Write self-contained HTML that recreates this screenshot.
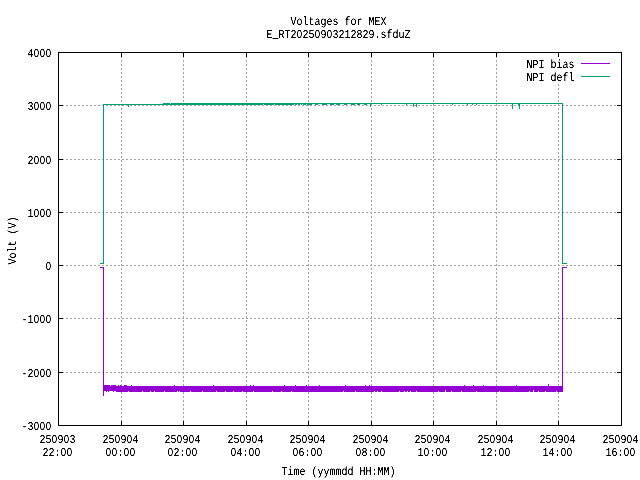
<!DOCTYPE html>
<html><head><meta charset="utf-8"><title>Voltages for MEX</title>
<style>
html,body{margin:0;padding:0;background:#fff;overflow:hidden}
svg{display:block}
text{font-family:"Liberation Mono",monospace;font-size:12px;fill:#000;white-space:pre;text-rendering:geometricPrecision;stroke:none}
.z{font-family:"Liberation Sans",sans-serif;font-size:11.5px}
</style></head><body>
<svg width="640" height="480" viewBox="0 0 640 480">
<defs><filter id="bw" x="0" y="0" width="640" height="480" filterUnits="userSpaceOnUse" color-interpolation-filters="sRGB"><feComponentTransfer><feFuncA type="linear" slope="2" intercept="-0.35"/></feComponentTransfer></filter></defs>
<rect x="0" y="0" width="640" height="480" fill="#fff"/>
<g shape-rendering="crispEdges" stroke="#a0a0a0" stroke-width="1" stroke-dasharray="2 2" fill="none">
<line x1="121.5" y1="56" x2="121.5" y2="425"/>
<line x1="183.5" y1="56" x2="183.5" y2="425"/>
<line x1="246.5" y1="56" x2="246.5" y2="425"/>
<line x1="308.5" y1="56" x2="308.5" y2="425"/>
<line x1="371.5" y1="56" x2="371.5" y2="425"/>
<line x1="433.5" y1="56" x2="433.5" y2="425"/>
<line x1="496.5" y1="56" x2="496.5" y2="425"/>
<line x1="558.5" y1="56" x2="558.5" y2="425"/>
<line x1="58" y1="105.5" x2="621" y2="105.5"/>
<line x1="58" y1="159.5" x2="621" y2="159.5"/>
<line x1="58" y1="212.5" x2="621" y2="212.5"/>
<line x1="58" y1="265.5" x2="621" y2="265.5"/>
<line x1="58" y1="318.5" x2="621" y2="318.5"/>
<line x1="58" y1="372.5" x2="621" y2="372.5"/>
</g>
<rect x="520" y="57" width="97" height="27" fill="#fff"/>
<g shape-rendering="crispEdges" stroke="#000" stroke-width="1" fill="none">
<line x1="121.5" y1="52" x2="121.5" y2="57"/><line x1="121.5" y1="421" x2="121.5" y2="426"/>
<line x1="183.5" y1="52" x2="183.5" y2="57"/><line x1="183.5" y1="421" x2="183.5" y2="426"/>
<line x1="246.5" y1="52" x2="246.5" y2="57"/><line x1="246.5" y1="421" x2="246.5" y2="426"/>
<line x1="308.5" y1="52" x2="308.5" y2="57"/><line x1="308.5" y1="421" x2="308.5" y2="426"/>
<line x1="371.5" y1="52" x2="371.5" y2="57"/><line x1="371.5" y1="421" x2="371.5" y2="426"/>
<line x1="433.5" y1="52" x2="433.5" y2="57"/><line x1="433.5" y1="421" x2="433.5" y2="426"/>
<line x1="496.5" y1="52" x2="496.5" y2="57"/><line x1="496.5" y1="421" x2="496.5" y2="426"/>
<line x1="558.5" y1="52" x2="558.5" y2="57"/><line x1="558.5" y1="421" x2="558.5" y2="426"/>
<line x1="58" y1="105.5" x2="63" y2="105.5"/><line x1="617" y1="105.5" x2="622" y2="105.5"/>
<line x1="58" y1="159.5" x2="63" y2="159.5"/><line x1="617" y1="159.5" x2="622" y2="159.5"/>
<line x1="58" y1="212.5" x2="63" y2="212.5"/><line x1="617" y1="212.5" x2="622" y2="212.5"/>
<line x1="58" y1="265.5" x2="63" y2="265.5"/><line x1="617" y1="265.5" x2="622" y2="265.5"/>
<line x1="58" y1="318.5" x2="63" y2="318.5"/><line x1="617" y1="318.5" x2="622" y2="318.5"/>
<line x1="58" y1="372.5" x2="63" y2="372.5"/><line x1="617" y1="372.5" x2="622" y2="372.5"/>
<rect x="58.5" y="52.5" width="563" height="373"/>
</g>
<g shape-rendering="crispEdges">
<g fill="#9400d3">
<rect x="100" y="267" width="4" height="1"/><rect x="103" y="267" width="1" height="129"/>
<rect x="562" y="267" width="5" height="1"/><rect x="562" y="267" width="1" height="125"/>
<rect x="104" y="386" width="459" height="6"/>
<rect x="104" y="385" width="1" height="1"/><rect x="105" y="385" width="1" height="1"/><rect x="106" y="385" width="1" height="1"/><rect x="107" y="385" width="1" height="1"/><rect x="108" y="385" width="1" height="1"/><rect x="109" y="385" width="1" height="1"/><rect x="111" y="385" width="1" height="1"/><rect x="112" y="385" width="1" height="1"/><rect x="113" y="385" width="1" height="1"/><rect x="114" y="385" width="1" height="1"/><rect x="115" y="385" width="1" height="1"/><rect x="118" y="385" width="1" height="1"/><rect x="120" y="385" width="1" height="1"/><rect x="124" y="385" width="1" height="1"/><rect x="125" y="385" width="1" height="1"/><rect x="126" y="385" width="1" height="1"/><rect x="131" y="385" width="1" height="1"/><rect x="174" y="385" width="1" height="1"/><rect x="213" y="385" width="1" height="1"/><rect x="250" y="385" width="1" height="1"/><rect x="253" y="385" width="1" height="1"/><rect x="284" y="385" width="1" height="1"/><rect x="295" y="385" width="1" height="1"/><rect x="306" y="385" width="1" height="1"/><rect x="319" y="385" width="1" height="1"/><rect x="345" y="385" width="1" height="1"/><rect x="365" y="385" width="1" height="1"/><rect x="369" y="385" width="1" height="1"/><rect x="464" y="385" width="1" height="1"/><rect x="473" y="385" width="1" height="1"/><rect x="483" y="385" width="1" height="1"/><rect x="516" y="385" width="1" height="1"/><rect x="548" y="384" width="1" height="2"/>
<g fill="#fff"><rect x="104" y="391" width="1" height="1"/><rect x="105" y="391" width="1" height="1"/><rect x="107" y="391" width="1" height="1"/><rect x="109" y="391" width="1" height="1"/><rect x="110" y="391" width="1" height="1"/><rect x="111" y="391" width="1" height="1"/><rect x="112" y="391" width="1" height="1"/><rect x="114" y="391" width="1" height="1"/><rect x="115" y="391" width="1" height="1"/><rect x="128" y="391" width="1" height="1"/><rect x="142" y="391" width="1" height="1"/><rect x="150" y="391" width="1" height="1"/><rect x="154" y="391" width="1" height="1"/><rect x="164" y="391" width="1" height="1"/><rect x="177" y="391" width="1" height="1"/><rect x="179" y="391" width="1" height="1"/><rect x="190" y="391" width="1" height="1"/><rect x="202" y="391" width="1" height="1"/><rect x="216" y="391" width="1" height="1"/><rect x="225" y="391" width="1" height="1"/><rect x="233" y="391" width="1" height="1"/><rect x="242" y="391" width="1" height="1"/><rect x="253" y="391" width="1" height="1"/><rect x="272" y="391" width="1" height="1"/><rect x="281" y="391" width="1" height="1"/><rect x="291" y="391" width="1" height="1"/><rect x="343" y="391" width="1" height="1"/><rect x="355" y="391" width="1" height="1"/><rect x="374" y="391" width="1" height="1"/><rect x="377" y="391" width="1" height="1"/><rect x="381" y="391" width="1" height="1"/><rect x="399" y="391" width="1" height="1"/><rect x="404" y="391" width="1" height="1"/><rect x="407" y="391" width="1" height="1"/><rect x="410" y="391" width="1" height="1"/><rect x="416" y="391" width="1" height="1"/><rect x="438" y="391" width="1" height="1"/><rect x="445" y="391" width="1" height="1"/><rect x="451" y="391" width="1" height="1"/><rect x="461" y="391" width="1" height="1"/><rect x="476" y="391" width="1" height="1"/><rect x="499" y="391" width="1" height="1"/><rect x="529" y="391" width="1" height="1"/><rect x="533" y="391" width="1" height="1"/><rect x="538" y="391" width="1" height="1"/><rect x="545" y="391" width="1" height="1"/><rect x="556" y="391" width="1" height="1"/><rect x="445" y="390" width="1" height="1"/><rect x="533" y="390" width="1" height="1"/></g>
</g>
<g fill="#009e73">
<rect x="100" y="263" width="4" height="1"/><rect x="103" y="104" width="1" height="160"/>
<rect x="562" y="263" width="5" height="1"/><rect x="562" y="103" width="1" height="161"/>
<rect x="103" y="104" width="268" height="1"/>
<rect x="163" y="103" width="400" height="1"/>
<rect x="170" y="103" width="1" height="1" fill="#fff"/>
<rect x="128" y="105" width="1" height="2"/>
<rect x="263" y="104" width="1" height="1" fill="#fff"/><rect x="274" y="104" width="1" height="1" fill="#fff"/><rect x="294" y="104" width="1" height="1" fill="#fff"/><rect x="297" y="104" width="1" height="1" fill="#fff"/><rect x="300" y="104" width="1" height="1" fill="#fff"/><rect x="302" y="104" width="1" height="1" fill="#fff"/><rect x="306" y="104" width="1" height="1" fill="#fff"/>
<rect x="312" y="104" width="3" height="1" fill="#fff"/><rect x="318" y="104" width="4" height="1" fill="#fff"/><rect x="327" y="104" width="3" height="1" fill="#fff"/><rect x="334" y="104" width="2" height="1" fill="#fff"/><rect x="340" y="104" width="4" height="1" fill="#fff"/><rect x="347" y="104" width="4" height="1" fill="#fff"/><rect x="355" y="104" width="2" height="1" fill="#fff"/><rect x="360" y="104" width="4" height="1" fill="#fff"/><rect x="367" y="104" width="3" height="1" fill="#fff"/>
<rect x="370" y="104" width="1" height="3"/><rect x="381" y="104" width="1" height="1"/><rect x="406" y="104" width="1" height="1"/><rect x="413" y="104" width="1" height="3"/><rect x="416" y="104" width="1" height="3"/><rect x="452" y="104" width="1" height="1"/><rect x="467" y="104" width="1" height="1"/><rect x="472" y="104" width="1" height="1"/><rect x="476" y="104" width="1" height="1"/><rect x="512" y="104" width="1" height="5"/><rect x="519" y="104" width="1" height="5"/><rect x="518" y="104" width="1" height="2"/>
</g>
<rect x="581" y="63" width="29" height="1" fill="#9400d3"/><rect x="581" y="76" width="29" height="1" fill="#009e73"/>
</g>
<g filter="url(#bw)">
<text transform="translate(290.50,25.00) scale(0.8333,1)" x="0 7.2 14.4 21.6 28.8 36 43.2 50.4 57.6 64.8 72 79.2 86.4 93.6 100.8 108">Voltages for MEX</text>
<text transform="translate(266.50,38.00) scale(0.8333,1)" x="0 7.2 14.4 21.6 28.8 36.35 43.2 50.4 57.95 64.8 72.35 79.2 86.4 93.6 100.8 108 115.2 122.4 129.61 136.81 144.01 151.21 158.41 165.61">E<tspan dy="-1" style="font-size:17px" textLength="7.2" lengthAdjust="spacingAndGlyphs">_</tspan><tspan dy="1">RT2<tspan class="z">0</tspan>25<tspan class="z">0</tspan>9<tspan class="z">0</tspan>3212829.sfduZ</tspan></text>
<text transform="translate(27.50,57.00) scale(0.8333,1)" x="0 7.55 14.75 21.95">4<tspan class="z">000</tspan></text>
<text transform="translate(27.50,110.00) scale(0.8333,1)" x="0 7.55 14.75 21.95">3<tspan class="z">000</tspan></text>
<text transform="translate(27.50,164.00) scale(0.8333,1)" x="0 7.55 14.75 21.95">2<tspan class="z">000</tspan></text>
<text transform="translate(27.50,217.00) scale(0.8333,1)" x="0 7.55 14.75 21.95">1<tspan class="z">000</tspan></text>
<text transform="translate(45.50,270.00) scale(0.8333,1)" x="0.35"><tspan class="z">0</tspan></text>
<text transform="translate(21.50,323.00) scale(0.8333,1)" x="0 7.2 14.75 21.95 29.15">-1<tspan class="z">000</tspan></text>
<text transform="translate(21.50,377.00) scale(0.8333,1)" x="0 7.2 14.75 21.95 29.15">-2<tspan class="z">000</tspan></text>
<text transform="translate(21.50,430.00) scale(0.8333,1)" x="0 7.2 14.75 21.95 29.15">-3<tspan class="z">000</tspan></text>
<text transform="translate(39.50,443.00) scale(0.8333,1)" x="0 7.2 14.75 21.6 29.15 36">25<tspan class="z">0</tspan>9<tspan class="z">0</tspan>3</text>
<text transform="translate(42.50,456.00) scale(0.8333,1)" x="0 7.2 14.4 21.95 29.15">22:<tspan class="z">00</tspan></text>
<text transform="translate(102.50,443.00) scale(0.8333,1)" x="0 7.2 14.75 21.6 29.15 36">25<tspan class="z">0</tspan>9<tspan class="z">0</tspan>4</text>
<text transform="translate(105.50,456.00) scale(0.8333,1)" x="0.35 7.55 14.4 21.95 29.15"><tspan class="z">00</tspan>:<tspan class="z">00</tspan></text>
<text transform="translate(164.50,443.00) scale(0.8333,1)" x="0 7.2 14.75 21.6 29.15 36">25<tspan class="z">0</tspan>9<tspan class="z">0</tspan>4</text>
<text transform="translate(167.50,456.00) scale(0.8333,1)" x="0.35 7.2 14.4 21.95 29.15"><tspan class="z">0</tspan>2:<tspan class="z">00</tspan></text>
<text transform="translate(227.50,443.00) scale(0.8333,1)" x="0 7.2 14.75 21.6 29.15 36">25<tspan class="z">0</tspan>9<tspan class="z">0</tspan>4</text>
<text transform="translate(230.50,456.00) scale(0.8333,1)" x="0.35 7.2 14.4 21.95 29.15"><tspan class="z">0</tspan>4:<tspan class="z">00</tspan></text>
<text transform="translate(289.50,443.00) scale(0.8333,1)" x="0 7.2 14.75 21.6 29.15 36">25<tspan class="z">0</tspan>9<tspan class="z">0</tspan>4</text>
<text transform="translate(292.50,456.00) scale(0.8333,1)" x="0.35 7.2 14.4 21.95 29.15"><tspan class="z">0</tspan>6:<tspan class="z">00</tspan></text>
<text transform="translate(352.50,443.00) scale(0.8333,1)" x="0 7.2 14.75 21.6 29.15 36">25<tspan class="z">0</tspan>9<tspan class="z">0</tspan>4</text>
<text transform="translate(355.50,456.00) scale(0.8333,1)" x="0.35 7.2 14.4 21.95 29.15"><tspan class="z">0</tspan>8:<tspan class="z">00</tspan></text>
<text transform="translate(414.50,443.00) scale(0.8333,1)" x="0 7.2 14.75 21.6 29.15 36">25<tspan class="z">0</tspan>9<tspan class="z">0</tspan>4</text>
<text transform="translate(417.50,456.00) scale(0.8333,1)" x="0 7.55 14.4 21.95 29.15">1<tspan class="z">0</tspan>:<tspan class="z">00</tspan></text>
<text transform="translate(477.50,443.00) scale(0.8333,1)" x="0 7.2 14.75 21.6 29.15 36">25<tspan class="z">0</tspan>9<tspan class="z">0</tspan>4</text>
<text transform="translate(480.50,456.00) scale(0.8333,1)" x="0 7.2 14.4 21.95 29.15">12:<tspan class="z">00</tspan></text>
<text transform="translate(539.50,443.00) scale(0.8333,1)" x="0 7.2 14.75 21.6 29.15 36">25<tspan class="z">0</tspan>9<tspan class="z">0</tspan>4</text>
<text transform="translate(542.50,456.00) scale(0.8333,1)" x="0 7.2 14.4 21.95 29.15">14:<tspan class="z">00</tspan></text>
<text transform="translate(602.50,443.00) scale(0.8333,1)" x="0 7.2 14.75 21.6 29.15 36">25<tspan class="z">0</tspan>9<tspan class="z">0</tspan>4</text>
<text transform="translate(605.50,456.00) scale(0.8333,1)" x="0 7.2 14.4 21.95 29.15">16:<tspan class="z">00</tspan></text>
<text transform="translate(281.50,475.00) scale(0.8333,1)" x="0 7.2 14.4 21.6 28.8 36 43.2 50.4 57.6 64.8 72 79.2 86.4 93.6 100.8 108 115.2 122.4 129.61">Time (yymmdd HH:MM)</text>
<text transform="translate(526.50,68.00) scale(0.8333,1)" x="0 7.2 14.4 21.6 28.8 36 43.2 50.4">NPI bias</text>
<text transform="translate(526.50,81.00) scale(0.8333,1)" x="0 7.2 14.4 21.6 28.8 36 43.2 50.4">NPI defl</text>
<text transform="translate(16,264) rotate(-90) translate(-0.50,0) scale(0.8333,1)" x="0 7.2 14.4 21.6 28.8 36 43.2 50.4">Volt (V)</text>
</g>
</svg>
</body></html>
